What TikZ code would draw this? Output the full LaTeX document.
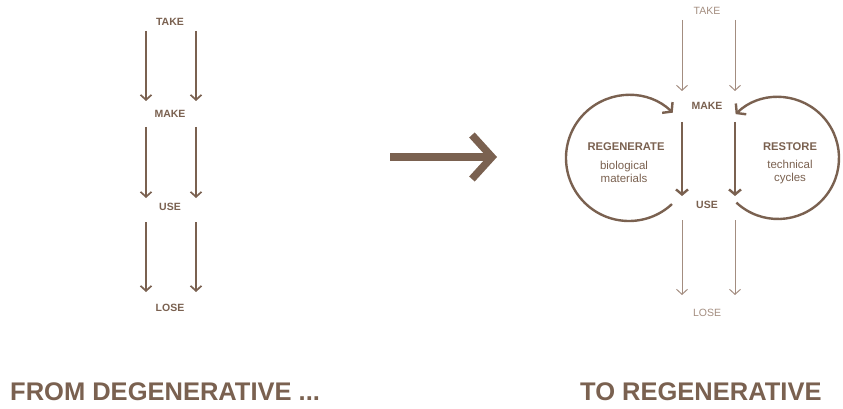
\documentclass[tikz,border=0pt]{standalone}
\usepackage{fontspec}
\setmainfont{Liberation Sans}
\usetikzlibrary{arrows.meta,calc}
\definecolor{earth}{HTML}{7A6150}
\definecolor{earthlight}{HTML}{A38D80}
\begin{document}
\begin{tikzpicture}[x=1pt,y=-1pt,
  stage/.style={font=\fontsize{10.5}{12}\selectfont\bfseries, text=earth, inner sep=1pt},
  stagelight/.style={font=\fontsize{10.5}{12}\selectfont, text=earthlight, inner sep=1pt},
  cyclehead/.style={font=\fontsize{11.2}{13}\selectfont\bfseries, text=earth, inner sep=1pt},
  cycletext/.style={font=\fontsize{11.5}{14}\selectfont, text=earth, align=center, inner sep=1pt},
  title/.style={font=\fontsize{25.5}{30}\selectfont\bfseries, text=earth, anchor=base west, inner sep=0pt},
  flow/.style={draw=earth, line width=1.7pt, -{Straight Barb[length=5pt,width=11pt]}},
  flowthin/.style={draw=earthlight, line width=1pt, -{Straight Barb[length=5pt,width=11pt]}},
  flowthick/.style={draw=earth, line width=2.4pt, -{Straight Barb[length=5pt,width=12pt]}},
  loop/.style={draw=earth, line width=2.4pt, -{Straight Barb[length=6pt,width=15pt]}},
  bigarrow/.style={draw=earth, line width=7.5pt, -{Straight Barb[length=20pt,width=44pt]}}
]
\useasboundingbox (0,0) rectangle (843,409);

% ---- linear chain ----
\node[stage] (take) at (170,22) {TAKE};
\node[stage] (make) at (170,114) {MAKE};
\node[stage] (use)  at (170,207) {USE};
\node[stage] (lose) at (170,308) {LOSE};

\foreach \x/\n in {146/a,196/b}{
  \coordinate (t\n) at (\x,31);  \coordinate (m\n) at (\x,101);
  \coordinate (n\n) at (\x,127); \coordinate (u\n) at (\x,198);
  \coordinate (v\n) at (\x,222); \coordinate (l\n) at (\x,292);
}
\foreach \n in {a,b}{
  \draw[flow] (t\n) -- (m\n);
  \draw[flow] (n\n) -- (u\n);
  \draw[flow] (v\n) -- (l\n);
}

% ---- transition arrow ----
\coordinate (from) at (390,157);
\coordinate (to) at (497,157);
\draw[bigarrow] (from) -- (to);

% ---- regenerative chain ----
\node[stagelight] (rtake) at (707,11) {TAKE};
\node[stage] (rmake) at (707,106) {MAKE};
\node[stage] (ruse)  at (707,205) {USE};
\node[stagelight] (rlose) at (707,313) {LOSE};

\foreach \x/\n in {682/a,735/b}{
  \coordinate (rt\n) at (\x,20);  \coordinate (rm\n) at (\x,91);
  \coordinate (rn\n) at (\x,122); \coordinate (ru\n) at (\x,196);
  \coordinate (rv\n) at (\x,220); \coordinate (rl\n) at (\x,295);
}
\foreach \n in {a,b}{
  \draw[flowthin] (rt\n) -- (rm\n);
  \draw[flowthick] (rn\n) -- (ru\n);
  \draw[flowthin] (rv\n) -- (rl\n);
}

% ---- cycles (y axis points down, so angles run clockwise) ----
\coordinate (bioc) at (629,158);
\coordinate (techc) at (778,158);
\draw[loop] ($(bioc)+(47:63)$) arc[start angle=47, end angle=314, radius=63];
\draw[loop] ($(techc)+(133:61)$) arc[start angle=133, end angle=-134, radius=61];

\node[cyclehead] (regen) at (626,147) {REGENERATE};
\node[cycletext] (bio) at (624,172) {biological\\[-1.5pt]materials};
\node[cyclehead] (restore) at (790,147) {RESTORE};
\node[cycletext] (tech) at (790,172) {technical\\[-1.5pt]cycles};

% ---- titles ----
\node[title] (degen) at (10,400) {FROM DEGENERATIVE ...};
\node[title] (regenr) at (580,400) {TO REGENERATIVE};
\end{tikzpicture}
\end{document}
